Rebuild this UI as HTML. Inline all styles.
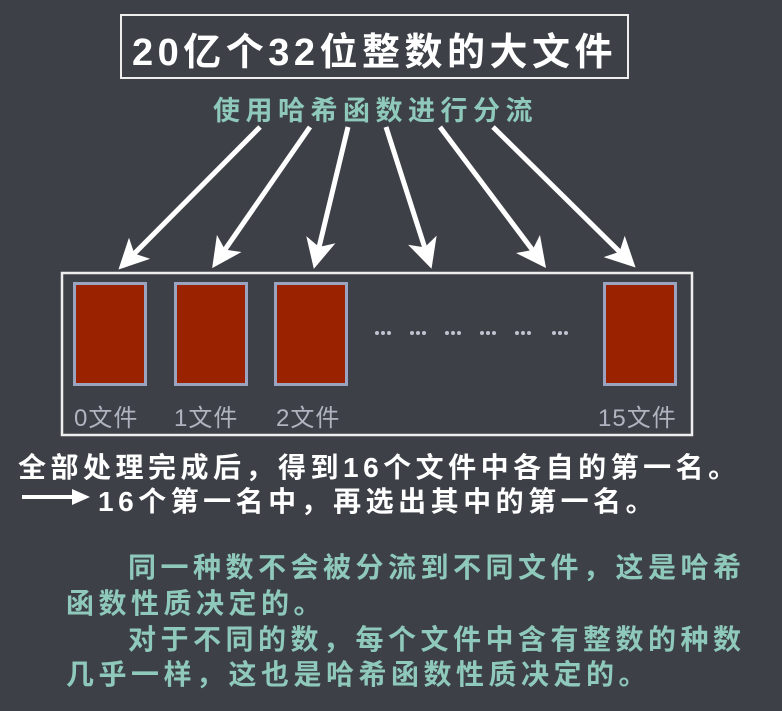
<!DOCTYPE html>
<html><head><meta charset="utf-8"><style>
body{margin:0;width:782px;height:711px;background:#3d4147;position:relative;overflow:hidden;font-family:"Liberation Sans","Noto Sans CJK SC",sans-serif}
.a{position:absolute;white-space:nowrap}
.r{position:absolute;top:282px;width:68px;height:98px;background:#9a2200;border:3px solid #9aa3c0}
.l{position:absolute;top:398px;font-size:24px;color:#b0b4c0;letter-spacing:1px}
.w{color:#fff;font-size:28px;font-weight:bold;left:18px;letter-spacing:4.5px}
.t{color:#8fc9bb;font-size:28px;font-weight:bold;letter-spacing:4.5px}
</style></head><body>
<div class="a" style="left:120px;top:14px;width:505px;height:61px;border:2px solid #eee"></div>
<div class="a" style="left:132px;top:21px;font-size:38px;font-weight:bold;color:#fff;letter-spacing:4.5px">20亿个32位整数的大文件</div>
<div class="a t" style="left:213px;top:89px;font-size:27px;letter-spacing:5.5px">使用哈希函数进行分流</div>
<svg class="a" style="left:0;top:0" width="782" height="711">
<defs><marker id="m" markerWidth="6" markerHeight="6" refX="5" refY="3" orient="auto"><path d="M0,0 L6,3 L0,6 L1.5,3z" fill="#fff"/></marker></defs>
<g stroke="#fff" stroke-width="5" marker-end="url(#m)">
<line x1="260" y1="127" x2="122" y2="266"/>
<line x1="310" y1="127" x2="215" y2="264"/>
<line x1="348" y1="127" x2="315" y2="264"/>
<line x1="386" y1="127" x2="430" y2="264"/>
<line x1="440" y1="127" x2="543" y2="264"/>
<line x1="493" y1="127" x2="632" y2="264"/>
</g>
<rect x="62" y="273" width="630" height="162" fill="none" stroke="#eee" stroke-width="2.5"/>
<g fill="#c0c4d0">
<circle cx="377" cy="333" r="2"/><circle cx="383" cy="333" r="2"/><circle cx="389" cy="333" r="2"/>
<circle cx="412" cy="333" r="2"/><circle cx="418" cy="333" r="2"/><circle cx="424" cy="333" r="2"/>
<circle cx="447" cy="333" r="2"/><circle cx="453" cy="333" r="2"/><circle cx="459" cy="333" r="2"/>
<circle cx="482" cy="333" r="2"/><circle cx="488" cy="333" r="2"/><circle cx="494" cy="333" r="2"/>
<circle cx="517" cy="333" r="2"/><circle cx="523" cy="333" r="2"/><circle cx="529" cy="333" r="2"/>
<circle cx="554" cy="333" r="2"/><circle cx="560" cy="333" r="2"/><circle cx="566" cy="333" r="2"/>
</g>
<line x1="22" y1="497" x2="78" y2="497" stroke="#fff" stroke-width="4"/>
<path d="M72,489 L90,497 L72,505z" fill="#fff"/>
</svg>
<div class="a w" style="top:446px">全部处理完成后，得到16个文件中各自的第一名。</div>
<div class="a w" style="top:480px;left:98px">16个第一名中，再选出其中的第一名。</div>
<div class="r" style="left:73px"></div>
<div class="r" style="left:174px"></div>
<div class="r" style="left:274px"></div>
<div class="r" style="left:603px"></div>
<div class="l" style="left:74px">0文件</div>
<div class="l" style="left:174px">1文件</div>
<div class="l" style="left:276px">2文件</div>
<div class="l" style="left:598px">15文件</div>
<div class="a t" style="left:128px;top:546px">同一种数不会被分流到不同文件，这是哈希</div>
<div class="a t" style="left:66px;top:582px">函数性质决定的。</div>
<div class="a t" style="left:128px;top:618px">对于不同的数，每个文件中含有整数的种数</div>
<div class="a t" style="left:66px;top:653px">几乎一样，这也是哈希函数性质决定的。</div>
</body></html>
